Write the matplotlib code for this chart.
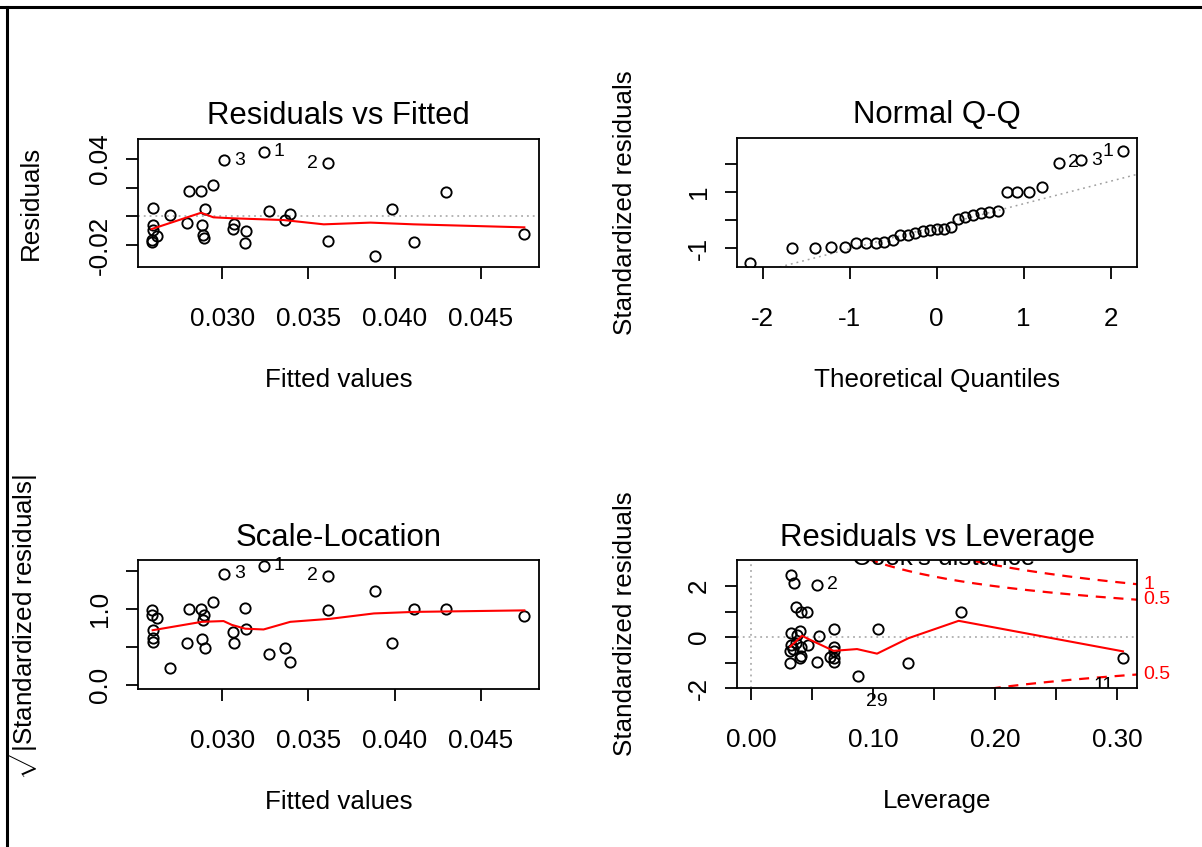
import matplotlib
matplotlib.use('Agg')
import matplotlib.pyplot as plt
import numpy as np
from matplotlib.lines import Line2D

plt.rcParams['font.family'] = ['Liberation Sans', 'DejaVu Sans']
plt.rcParams['mathtext.fontset'] = 'custom'
plt.rcParams['mathtext.rm'] = 'Liberation Sans'
plt.rcParams['mathtext.it'] = 'Liberation Sans:italic'

fitted = [0.03013, 0.03240, 0.03612, 0.02808, 0.02878, 0.02949, 0.02597, 0.02698,
          0.02901, 0.02798, 0.02882, 0.02891, 0.02895, 0.02597, 0.02597, 0.02620,
          0.02591, 0.02595, 0.03060, 0.03070, 0.03140, 0.03134, 0.03269, 0.03362,
          0.03395, 0.03612, 0.03884, 0.03983, 0.04112, 0.04297, 0.04752]
resid = [0.0393, 0.0451, 0.0370, 0.0179, 0.0179, 0.0219, 0.0060, 0.0009,
         0.0051, -0.0045, -0.0061, -0.0130, -0.0153, -0.0061, -0.0096, -0.0138,
         -0.0165, -0.0178, -0.0089, -0.0054, -0.0102, -0.0189, 0.0037, -0.0026,
         0.0016, -0.0172, -0.0275, 0.0051, -0.0177, 0.0172, -0.0125]
std_resid = [2.13, 2.45, 2.05, 1.00, 1.00, 1.19, 0.32, 0.05,
             0.24, -0.31, -0.37, -0.73, -0.84, -0.39, -0.53, -0.77,
             -0.84, -0.97, -0.48, -0.31, -0.55, -1.01, 0.17, -0.24,
             0.09, -0.96, -1.52, 0.30, -1.00, 1.00, -0.81]
leverage = [0.035, 0.033, 0.054, 0.046, 0.041, 0.037, 0.068, 0.056,
            0.040, 0.047, 0.041, 0.041, 0.040, 0.068, 0.068, 0.065,
            0.068, 0.068, 0.034, 0.033, 0.032, 0.032, 0.033, 0.037,
            0.038, 0.054, 0.088, 0.104, 0.129, 0.172, 0.305]

# theoretical normal quantiles for the Q-Q panel
qq_theory = [-2.141, -1.660, -1.401, -1.211, -1.057, -0.925, -0.807, -0.700,
             -0.601, -0.506, -0.416, -0.329, -0.245, -0.162, -0.081, 0.0,
             0.081, 0.162, 0.245, 0.329, 0.416, 0.506, 0.601, 0.700,
             0.807, 0.925, 1.057, 1.211, 1.401, 1.660, 2.141]
qq_line_intercept = -0.225
qq_line_slope = 0.806

# red smoothers
smooth1_x = [0.02591, 0.02878, 0.02949, 0.03064, 0.03356, 0.03589, 0.03860, 0.04110, 0.04752]
smooth1_y = [-0.0089, 0.0025, -0.0007, -0.0014, -0.0026, -0.0056, -0.0044, -0.0056, -0.0077]
smooth3_x = [0.02597, 0.02882, 0.03008, 0.03056, 0.03134, 0.03240, 0.03395, 0.03628, 0.03880, 0.04112, 0.04752]
smooth3_y = [0.72, 0.83, 0.84, 0.79, 0.74, 0.73, 0.83, 0.87, 0.94, 0.96, 0.98]
smooth4_x = [0.0322, 0.0418, 0.0486, 0.0677, 0.0869, 0.1033, 0.1292, 0.1702, 0.3049]
smooth4_y = [-0.37, 0.05, -0.11, -0.54, -0.47, -0.65, -0.04, 0.64, -0.56]

cook_levels = [0.5, 1.0]
n_params = 2

# labelled points: index into the arrays, label text
lab_fit = [(0, '3', 'left'), (1, '1', 'left'), (2, '2', 'right')]
lab_qq = [(28, '2', 'left'), (29, '3', 'left'), (30, '1', 'right')]

W, H = 1202, 847
fig = plt.figure(figsize=(W / 100, H / 100), dpi=100)

FS = 18.7
FS_T = 22.4
FS_S = 14

def make_ax(x0, y0, x1, y1):
    return fig.add_axes([x0 / W, 1 - y1 / H, (x1 - x0) / W, (y1 - y0) / H])

def style(ax, title, xlabel, ylabel, ylab_x, title_gap=15):
    for s in ax.spines.values():
        s.set_linewidth(1.3)
    ax.tick_params(length=8.6, width=1.3, labelsize=FS, direction='out')
    ax.tick_params(axis='x', pad=29)
    ax.tick_params(axis='y', pad=18.7)
    for t in ax.get_xticklabels():
        t.set_va('center')
    for t in ax.get_yticklabels():
        t.set_rotation(90)
        t.set_ha('center')
        t.set_va('center')
    hpx = ax.get_position().height * H
    wpx = ax.get_position().width * W
    ax.text(0.5, 1 + title_gap / hpx, title, transform=ax.transAxes,
            ha='center', va='baseline', fontsize=FS_T)
    ax.set_xlabel(xlabel, fontsize=FS)
    ax.xaxis.set_label_coords(0.5, -(380 - 267) / hpx)
    ax.xaxis.label.set_va('center')
    ax.set_ylabel(ylabel, fontsize=FS)
    ax.yaxis.set_label_coords(ylab_x / wpx, 0.5)
    ax.yaxis.label.set_va('center')

pt = dict(marker='o', linestyle='none', markersize=7.4, markerfacecolor='none',
          markeredgecolor='black', markeredgewidth=1.35)
dotted = dict(color='#a0a0a0', linestyle=(0, (1.2, 2.6)), linewidth=1.1)
RED_LW = 1.5

# ---------- Residuals vs Fitted ----------
ax1 = make_ax(138, 139, 539, 267)
ax1.axhline(0, **dotted)
ax1.plot(fitted, resid, **pt)
ax1.plot(smooth1_x, smooth1_y, color='red', lw=RED_LW)
for i, lab, side in lab_fit:
    dx = 7 if side == 'left' else -7
    ax1.annotate(lab, (fitted[i], resid[i]), xytext=(dx, 0), textcoords='offset points',
                 ha=side, va='center', fontsize=FS_S)
ax1.set_xlim(0.02512, 0.04837)
ax1.set_ylim(-0.0354, 0.0540)
ax1.set_xticks([0.030, 0.035, 0.040, 0.045])
ax1.set_xticklabels(['0.030', '0.035', '0.040', '0.045'])
ax1.set_yticks([-0.02, 0.0, 0.02, 0.04])
ax1.set_yticklabels(['-0.02', '', '', '0.04'])
style(ax1, 'Residuals vs Fitted', 'Fitted values', 'Residuals', 31 - 138)

# ---------- Normal Q-Q ----------
ax2 = make_ax(737, 138, 1137, 267)
qq_y = np.sort(std_resid)
ax2.axline((0, qq_line_intercept), slope=qq_line_slope, **dotted)
ax2.plot(qq_theory, qq_y, **pt)
for i, lab, side in lab_qq:
    dx = 7 if side == 'left' else -7
    ax2.annotate(lab, (qq_theory[i], qq_y[i]), xytext=(dx, 0), textcoords='offset points',
                 ha=side, va='center', fontsize=FS_S)
ax2.set_xlim(-2.295, 2.302)
ax2.set_ylim(-1.68, 2.93)
ax2.set_xticks([-2, -1, 0, 1, 2])
ax2.set_xticklabels(['-2', '-1', '0', '1', '2'])
ax2.set_yticks([-1, 0, 1, 2])
ax2.set_yticklabels(['-1', '', '1', ''])
style(ax2, 'Normal Q-Q', 'Theoretical Quantiles', 'Standardized residuals', 625 - 737)

# ---------- Scale-Location ----------
ax3 = make_ax(138, 560, 539, 689)
sl_y = np.sqrt(np.abs(std_resid))
ax3.plot(fitted, sl_y, **pt)
ax3.plot(smooth3_x, smooth3_y, color='red', lw=RED_LW)
for i, lab, side in lab_fit:
    dx = 7 if side == 'left' else -7
    ax3.annotate(lab, (fitted[i], sl_y[i]), xytext=(dx, 0), textcoords='offset points',
                 ha=side, va='center', fontsize=FS_S)
ax3.set_xlim(0.02512, 0.04837)
ax3.set_ylim(-0.05, 1.64)
ax3.set_xticks([0.030, 0.035, 0.040, 0.045])
ax3.set_xticklabels(['0.030', '0.035', '0.040', '0.045'])
ax3.set_yticks([0.0, 0.5, 1.0, 1.5])
ax3.set_yticklabels(['0.0', '', '1.0', ''])
style(ax3, 'Scale-Location', 'Fitted values',
      r'$\sqrt{|\mathrm{Standardized\ residuals}|}$', 22 - 138, title_gap=14)

# ---------- Residuals vs Leverage ----------
ax4 = make_ax(737, 560, 1137, 688)
ax4.axhline(0, **dotted)
ax4.axvline(0, **dotted)
ax4.plot(leverage, std_resid, **pt)
ax4.plot(smooth4_x, smooth4_y, color='red', lw=RED_LW)
xlo, xhi = -0.0115, 0.3164
hh = np.linspace(0.001, xhi, 200)
for lev in cook_levels:
    bound = np.sqrt(lev * n_params * (1 - hh) / hh)
    for sgn in (1, -1):
        ax4.plot(hh, sgn * bound, color='red', lw=1.6, linestyle=(0, (4.5, 3.5)))
    yb = np.sqrt(lev * n_params * (1 - xhi) / xhi)
    ax4.text(xhi + 0.005, yb, f'{lev:g}', color='red', fontsize=FS_S,
             ha='left', va='center', clip_on=False)
    if -yb > -1.99:
        ax4.text(xhi + 0.005, -yb, f'{lev:g}', color='red', fontsize=FS_S,
                 ha='left', va='center', clip_on=False)
ax4.annotate('2', (leverage[2], std_resid[2]), xytext=(7, 0), textcoords='offset points',
             ha='left', va='center', fontsize=FS_S)
ax4.text(0.289, -1.92, '11', fontsize=FS_S, ha='center', va='center', clip_on=True)
ax4.text(0.1035, -2.54, '29', fontsize=FS_S, ha='center', va='center', clip_on=False)
ax4.text(0.158, 3.12, "Cook's distance", fontsize=FS, ha='center', va='center', clip_on=True)
ax4.set_xlim(xlo, xhi)
ax4.set_ylim(-1.99, 3.03)
ax4.set_xticks([0.0, 0.05, 0.10, 0.15, 0.20, 0.25, 0.30])
ax4.set_xticklabels(['0.00', '', '0.10', '', '0.20', '', '0.30'])
ax4.set_yticks([-2, -1, 0, 1, 2])
ax4.set_yticklabels(['-2', '', '0', '', '2'])
style(ax4, 'Residuals vs Leverage', 'Leverage', 'Standardized residuals', 625 - 737,
      title_gap=14)

# frame at the top and left edge of the picture
fig.add_artist(Line2D([0, 1], [1 - 7 / H, 1 - 7 / H], color='black', lw=2.2,
                      transform=fig.transFigure))
fig.add_artist(Line2D([7 / W, 7 / W], [0, 1 - 7 / H], color='black', lw=2.2,
                      transform=fig.transFigure))

fig.savefig('out.png', dpi=100)
